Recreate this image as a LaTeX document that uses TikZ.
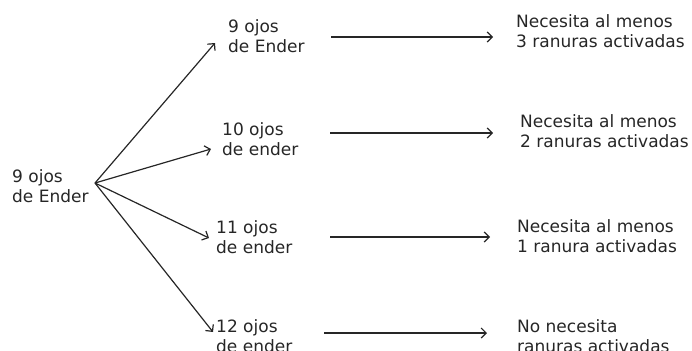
\documentclass[tikz,border=0pt]{standalone}
\usepackage{fontspec}
\setmainfont{DejaVu Sans}
\usetikzlibrary{arrows.meta}
\definecolor{ink}{HTML}{262626}
\begin{document}
\begin{tikzpicture}[x=1bp,y=-1bp,
  lbl/.style={font=\fontsize{17bp}{19.5bp}\selectfont, text=ink, align=left,
              anchor=base west, inner sep=0pt},
  arr/.style={draw=ink, line width=1.2bp,
              -{Straight Barb[length=5bp,width=10bp,line width=1.2bp]}}]
\useasboundingbox (0,0) rectangle (692,350);

% source and the four cases (placed by the baseline of the last line)
\node[lbl] (src) at (12,202)  {9 ojos\\de Ender};
\node[lbl] (e9)  at (228,52)  {9 ojos\\de Ender};
\node[lbl] (e10) at (222,155) {10 ojos\\de ender};
\node[lbl] (e11) at (216,253) {11 ojos\\de ender};
\node[lbl] (e12) at (216,352) {12 ojos\\de ender};

% requirements
\node[lbl] (r3) at (516,47)  {Necesita al menos\\3 ranuras activadas};
\node[lbl] (r2) at (520,147) {Necesita al menos\\2 ranuras activadas};
\node[lbl] (r1) at (517,252) {Necesita al menos\\1 ranura activadas};
\node[lbl] (r0) at (517,352) {No necesita\\ranuras activadas};

% fan-out point and arrow ends
\coordinate (hub) at (95,183);
\coordinate (t9)  at (215,43);
\coordinate (t10) at (211,149);
\coordinate (t11) at (209,238);
\coordinate (t12) at (213,332);

\draw[arr] (hub) -- (t9);
\draw[arr] (hub) -- (t10);
\draw[arr] (hub) -- (t11);
\draw[arr] (hub) -- (t12);

% horizontal implications
\coordinate (a9)  at (331,37);  \coordinate (b9)  at (493,37);
\coordinate (a10) at (330,133); \coordinate (b10) at (493,133);
\coordinate (a11) at (330,237); \coordinate (b11) at (490,237);
\coordinate (a12) at (324,333); \coordinate (b12) at (487,333);

\draw[arr] (a9)  -- (b9);
\draw[arr] (a10) -- (b10);
\draw[arr] (a11) -- (b11);
\draw[arr] (a12) -- (b12);
\end{tikzpicture}
\end{document}
